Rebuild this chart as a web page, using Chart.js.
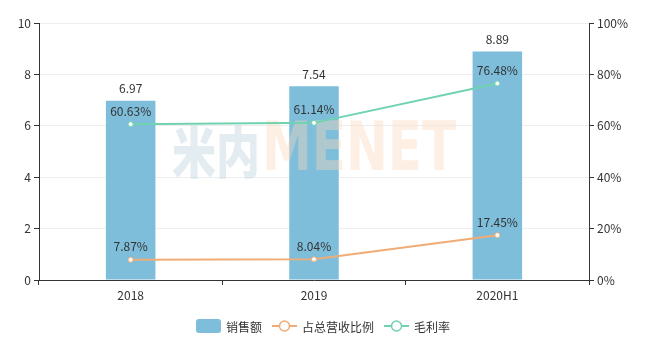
<!DOCTYPE html>
<html>
<head>
<meta charset="utf-8">
<script src="https://cdn.jsdelivr.net/npm/chart.js@4"></script>
<style>
  body { margin: 0; background: #fff; }
  #wrap { width: 646px; height: 352px; }
</style>
</head>
<body>
<div id="wrap"><canvas id="chart" width="646" height="352"></canvas></div>
<script>
// 数据
var years = ['2018', '2019', '2020H1'];
var sales = [6.97, 7.54, 8.89];          // 销售额
var shareOfRevenue = [7.87, 8.04, 17.45]; // 占总营收比例 (%)
var grossMargin = [60.63, 61.14, 76.48];  // 毛利率 (%)
var leftTicks = [0, 2, 4, 6, 8, 10];
var rightTicks = [0, 20, 40, 60, 80, 100];

var FONT = '"Noto Sans CJK SC", "Open Sans", sans-serif';
var TEXT = '#333';
var barColor = 'rgb(126,190,219)';
var orange = 'rgb(240,172,118)';
var green = 'rgb(112,210,174)';

// 水印: 画在柱子上面、折线下面 (半透明)
var watermark = {
    id: 'watermark',
    afterDatasetDraw: function(chart, args) {
        if (args.index !== 0) return;
        var ctx = chart.ctx;
        ctx.save();
        ctx.textBaseline = 'middle';
        ctx.font = '900 56px ' + FONT;
        ctx.fillStyle = 'rgba(200,218,225,0.5)';
        ctx.fillText('米内', 172, 152, 88);
        ctx.font = 'bold 67px "DejaVu Sans", sans-serif';
        ctx.fillStyle = 'rgba(250,215,185,0.4)';
        ctx.fillText('MENET', 262, 153, 194);
        ctx.restore();
    }
};

// 数值标签
var valueLabels = {
    id: 'valueLabels',
    afterDatasetsDraw: function(chart) {
        var ctx = chart.ctx;
        ctx.save();
        ctx.font = '12px ' + FONT;
        ctx.fillStyle = TEXT;
        ctx.textAlign = 'center';
        ctx.textBaseline = 'bottom';
        chart.data.datasets.forEach(function(ds, i) {
            var meta = chart.getDatasetMeta(i);
            meta.data.forEach(function(el, j) {
                var txt = ds.type === 'line' ? ds.data[j].toFixed(2) + '%' : ds.data[j].toFixed(2);
                var off = ds.type === 'line' ? 7 : 6;
                ctx.fillText(txt, el.x, el.y - off);
            });
        });
        ctx.restore();
    }
};

// 底部图例
var bottomLegend = {
    id: 'bottomLegend',
    afterDraw: function(chart) {
        var ctx = chart.ctx;
        ctx.save();
        ctx.font = '12px ' + FONT;
        ctx.textBaseline = 'middle';
        var items = [
            {text: '销售额', kind: 'bar', color: barColor},
            {text: '占总营收比例', kind: 'line', color: orange},
            {text: '毛利率', kind: 'line', color: green}
        ];
        var iconW = 25, gap = 5, spacing = 10;
        var total = 0;
        items.forEach(function(it) { total += iconW + gap + ctx.measureText(it.text).width; });
        total += spacing * (items.length - 1);
        var x = 323 - total / 2;
        var y = 326;
        items.forEach(function(it) {
            if (it.kind === 'bar') {
                ctx.fillStyle = it.color;
                ctx.beginPath();
                ctx.roundRect(x, y - 7, iconW, 14, 3);
                ctx.fill();
            } else {
                ctx.strokeStyle = it.color;
                ctx.lineWidth = 2;
                ctx.beginPath();
                ctx.moveTo(x, y);
                ctx.lineTo(x + iconW, y);
                ctx.stroke();
                ctx.beginPath();
                ctx.arc(x + iconW / 2, y, 5, 0, Math.PI * 2);
                ctx.fillStyle = '#fff';
                ctx.fill();
                ctx.lineWidth = 1.5;
                ctx.stroke();
            }
            x += iconW + gap;
            ctx.fillStyle = TEXT;
            ctx.fillText(it.text, x, y + 1);
            x += ctx.measureText(it.text).width + spacing;
        });
        ctx.restore();
    }
};

new Chart(document.getElementById('chart'), {
    data: {
        labels: years,
        datasets: [{
            type: 'bar',
            label: '销售额',
            data: sales,
            backgroundColor: barColor,
            yAxisID: 'y',
            barPercentage: 0.27,
            categoryPercentage: 1,
            order: 2
        }, {
            type: 'line',
            label: '占总营收比例',
            data: shareOfRevenue,
            borderColor: orange,
            borderWidth: 2,
            pointRadius: 2.5,
            pointBackgroundColor: '#fff',
            pointBorderColor: orange,
            pointBorderWidth: 1,
            yAxisID: 'y1',
            order: 1
        }, {
            type: 'line',
            label: '毛利率',
            data: grossMargin,
            borderColor: green,
            borderWidth: 2,
            pointRadius: 2.5,
            pointBackgroundColor: '#fff',
            pointBorderColor: green,
            pointBorderWidth: 1,
            yAxisID: 'y1',
            order: 0
        }]
    },
    options: {
        responsive: false,
        animation: false,
        layout: { padding: { top: 23, bottom: 42, left: 0, right: 0 } },
        plugins: {
            legend: { display: false },
            tooltip: { enabled: false }
        },
        scales: {
            x: {
                offset: true,
                grid: { offset: true, drawOnChartArea: false, drawTicks: true, tickLength: 5, tickColor: '#333' },
                border: { color: '#333' },
                ticks: { color: TEXT, font: { family: FONT, size: 12 }, padding: 3 },
                afterFit: function(s) { s.height = 30; }
            },
            y: {
                position: 'left',
                min: 0, max: 10,
                afterBuildTicks: function(s) { s.ticks = leftTicks.map(function(v) { return {value: v}; }); },
                grid: { color: '#eee', tickColor: '#333', tickLength: 5 },
                border: { color: '#333' },
                ticks: { color: TEXT, font: { family: FONT, size: 12 }, padding: 3 },
                afterFit: function(s) { s.width = 39; }
            },
            y1: {
                position: 'right',
                min: 0, max: 100,
                afterBuildTicks: function(s) { s.ticks = rightTicks.map(function(v) { return {value: v}; }); },
                grid: { drawOnChartArea: false, tickColor: '#333', tickLength: 5 },
                border: { color: '#333' },
                ticks: {
                    color: TEXT, font: { family: FONT, size: 12 }, padding: 3,
                    callback: function(v) { return v + '%'; }
                },
                afterFit: function(s) { s.width = 57; }
            }
        }
    },
    plugins: [watermark, valueLabels, bottomLegend]
});
</script>
</body>
</html>
